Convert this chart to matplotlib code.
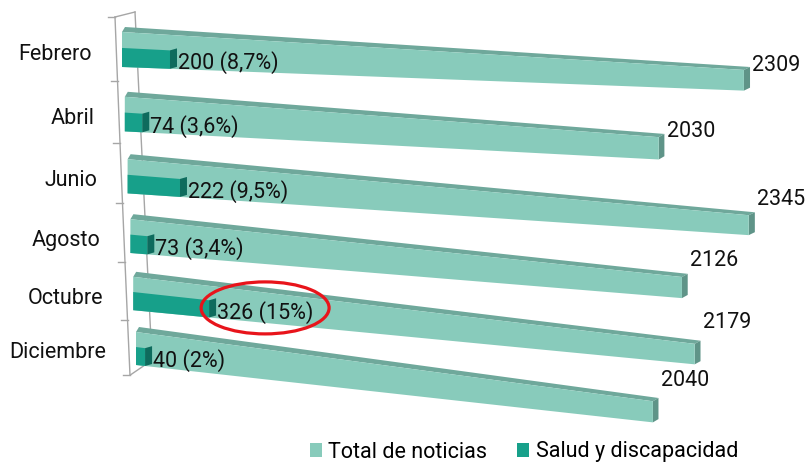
import numpy as np
import matplotlib
matplotlib.use("Agg")
import matplotlib.pyplot as plt
import matplotlib.transforms as mtransforms
from matplotlib.patches import Polygon, Ellipse, Patch
from matplotlib import font_manager

# ---------------- data ----------------
months = ["Febrero", "Abril", "Junio", "Agosto", "Octubre", "Diciembre"]
total = [2309, 2030, 2345, 2126, 2179, 2040]
salud = [200, 74, 222, 73, 326, 40]
salud_labels = ["200 (8,7%)", "74 (3,6%)", "222 (9,5%)", "73 (3,4%)", "326 (15%)", "40 (2%)"]
series_names = ["Total de noticias", "Salud y discapacidad"]
highlight_index = 4  # Octubre

# ---------------- style ----------------
names = {f.name for f in font_manager.fontManager.ttflist}
if "Liberation Sans Narrow" in names:
    plt.rcParams["font.family"] = ["Liberation Sans Narrow", "DejaVu Sans"]
    FS = 17.5
else:
    plt.rcParams["font.family"] = ["Roboto", "DejaVu Sans"]
    FS = 15.5

C_TOTAL = "#88cbbb"
C_TOTAL_TOP = "#6fa89b"
C_TOTAL_END = "#5f9488"
C_SALUD = "#17a08a"
C_SALUD_END = "#0e6b5d"
C_WALL = "#a6a6a6"
C_TEXT = "#111111"

# vertical nudges (pixels) of the value labels above each bar end
total_label_dy = [1.5, 0.0, -10.0, -11.0, -16.0, -15.0]


class BarPerspective(mtransforms.Transform):
    """Maps (value, row position) to pixel coordinates of the tilted 3-D view."""
    input_dims = 2
    output_dims = 2
    is_separable = False
    has_inverse = False

    def __init__(self, back=(0.0, 0.0, 0.0, 0.0)):
        super().__init__()
        self.back = back

    def transform_non_affine(self, values):
        values = np.asarray(values, dtype=float).reshape(-1, 2)
        u = values[:, 0]
        v = values[:, 1]
        r = np.floor(v + 0.5)
        w = v - r
        dx = (0.2372 * u + 1.392e-5 * u * u) * (1 - 0.0092 * r)
        x = 122 + 2.8 * r + dx
        ytop = 32 + 66 * r - 1.2 * r * r + (0.061 + 0.0146 * r) * dx
        h = 35 - 0.4 * r - 0.023 * dx
        y = ytop + (w + 0.45) / 0.9 * h
        ox0, ox1, oy0, oy1 = self.back
        x = x + ox0 + ox1 * dx
        y = y + oy0 + oy1 * dx
        return np.column_stack([x, y])


W, H = 807, 466
fig = plt.figure(figsize=(W / 100, H / 100), dpi=100)
ax = fig.add_axes([0, 0, 1, 1])
ax.set_xlim(0, W)
ax.set_ylim(H, 0)
ax.axis("off")

front = BarPerspective()
back_total = BarPerspective(back=(3.0, 0.005, -5.0, 0.0033))
back_salud = BarPerspective(back=(7.0, 0.0, -2.0, 0.0))
tf = front + ax.transData

rows = np.arange(len(months))

# ---------------- wall / category axis ----------------
s = np.arange(len(months) + 1)
wx = 115 + 2.5 * s
wy = 17 + 64.5 * s - 0.8 * s ** 2
bx = wx + 20 + 0.33 * s
by = wy - 5 - 1.67 * s
ax.plot(wx, wy, color=C_WALL, lw=1.0, zorder=1)
ax.plot([wx[0], bx[0]], [wy[0], by[0]], color=C_WALL, lw=1.0, zorder=1)
ax.plot([wx[-1], bx[-1]], [wy[-1], by[-1]], color=C_WALL, lw=1.0, zorder=1)
ax.plot([bx[0], bx[-1]], [by[0], by[-1]], color=C_WALL, lw=1.0, zorder=1)
for xi, yi in zip(wx, wy):
    ax.plot([xi - 7, xi], [yi, yi], color=C_WALL, lw=1.0, zorder=1)

# ---------------- bars ----------------
TOP, BOT = -0.45, 0.45
S_C, S_H = 0.205, 0.49
for r, val in zip(rows, total):
    t = r + TOP
    b = r + BOT
    top_face = np.vstack([front.transform([[0, t], [val, t]]),
                          back_total.transform([[val, t], [0, t]])])
    ax.add_patch(Polygon(top_face, closed=True, fc=C_TOTAL_TOP, ec="none",
                         transform=ax.transData, zorder=2))
    end_face = np.vstack([front.transform([[val, t], [val, b]]),
                          back_total.transform([[val, b], [val, t]])])
    ax.add_patch(Polygon(end_face, closed=True, fc=C_TOTAL_END, ec="none",
                         transform=ax.transData, zorder=2))

ax.barh(rows, total, height=BOT - TOP, left=0, color=C_TOTAL,
        transform=tf, zorder=3)
ax.barh(rows + S_C, salud, height=S_H, left=0, color=C_SALUD,
        transform=tf, zorder=4)

for r, val in zip(rows, salud):
    t = r + S_C - S_H / 2
    b = r + S_C + S_H / 2
    end_face = np.vstack([front.transform([[val, t], [val, b]]),
                          back_salud.transform([[val, b], [val, t]])])
    ax.add_patch(Polygon(end_face, closed=True, fc=C_SALUD_END, ec="none",
                         transform=ax.transData, zorder=4))

ax.set_xlim(0, W)
ax.set_ylim(H, 0)

# ---------------- labels ----------------
for r, m in zip(rows, months):
    tr = front + mtransforms.Affine2D().translate(-30, 10) + ax.transData
    ax.text(0, r, m, transform=tr, ha="right", va="baseline",
            fontsize=FS, color=C_TEXT, zorder=6)

for r, val in zip(rows, total):
    tr = front + mtransforms.Affine2D().translate(8, total_label_dy[r]) + ax.transData
    ax.text(val, r + TOP, str(val), transform=tr, ha="left", va="baseline",
            fontsize=FS, color=C_TEXT, zorder=6)

for r, val, lab in zip(rows, salud, salud_labels):
    tr = front + mtransforms.Affine2D().translate(8, 9.5) + ax.transData
    ax.text(val, r + S_C, lab, transform=tr, ha="left", va="baseline",
            fontsize=FS, color=C_TEXT, zorder=6)

# highlight ellipse around the Octubre label
cx, cy = front.transform([[salud[highlight_index], highlight_index + S_C]])[0]
ax.add_patch(Ellipse((cx + 56, cy - 1), 128, 52, fill=False, ec="#e8141b",
                     lw=2.3, transform=ax.transData, zorder=7))

# ---------------- legend ----------------
handles = [Patch(fc=C_TOTAL, ec="none"), Patch(fc=C_SALUD, ec="none")]
fig.legend(handles, series_names, loc="center left",
           bbox_to_anchor=(310 / W, 1 - 452 / H), ncol=2, frameon=False,
           fontsize=FS, handlelength=0.55, handleheight=0.62,
           handletextpad=0.3, columnspacing=1.4, borderpad=0,
           borderaxespad=0)

fig.savefig("out.png", dpi=100)
